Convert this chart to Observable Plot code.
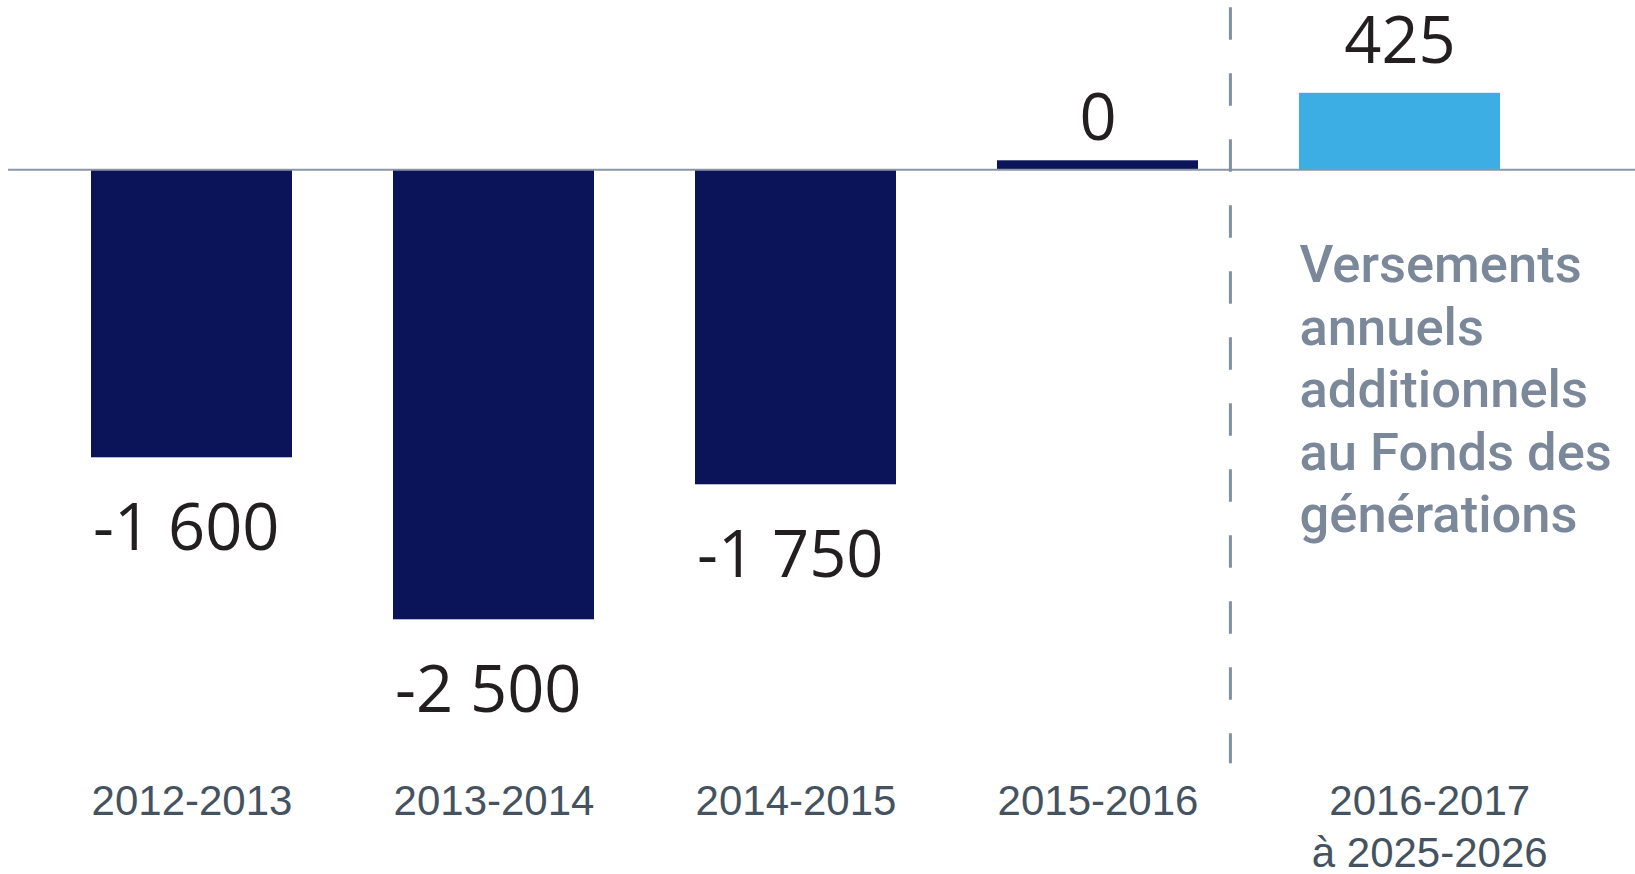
<!DOCTYPE html>
<html><head><meta charset="utf-8">
<script src="https://cdn.jsdelivr.net/npm/d3@7"></script>
<script src="https://cdn.jsdelivr.net/npm/@observablehq/plot@0.6"></script>
<style>html,body{margin:0;padding:0;background:#fff;}#chart svg{display:block;}</style>
</head><body><div id="chart"></div>
<script>
const periods = ["2012-2013", "2013-2014", "2014-2015", "2015-2016", "2016-2017 à 2025-2026"];
const tickLabels = ["2012-2013", "2013-2014", "2014-2015", "2015-2016", "2016-2017\nà 2025-2026"];
const values = [-1600, -2500, -1750, 0, 425];
const kinds = ["Résultat", "Résultat", "Résultat", "Résultat", "Versement"];
const note = "Versements\nannuels\nadditionnels\nau Fonds des\ngénérations";

const data = periods.map((p, i) => ({period: p, value: values[i], kind: kinds[i], tick: tickLabels[i]}));
const fr = d3.formatLocale({decimal: ",", thousands: " ", grouping: [3], currency: ["", " $"], minus: "-"});
const fmt = fr.format(",");

const chart = Plot.plot({
  width: 1635,
  height: 874,
  marginLeft: 8,
  marginRight: 0,
  marginTop: 7.3,
  marginBottom: 110.7,
  style: {fontFamily: "Liberation Sans", background: "#fff"},
  x: {domain: periods, paddingInner: 0.336, paddingOuter: 0.3555, align: 0.381, axis: null},
  y: {domain: [-3300, 900], axis: null},
  color: {domain: ["Résultat", "Versement"], range: ["#0b1359", "#3daee3"]},
  marks: [
    Plot.barY(data.filter(d => d.value !== 0), {x: "period", y: "value", fill: "kind"}),
    Plot.barY(data.filter(d => d.value === 0), {x: "period", y: "value", fill: "kind", insetTop: -9}),
    Plot.ruleY([0], {stroke: "#8a96a6", strokeWidth: 2}),
    Plot.ruleX([periods[4]], {x: d => d, dx: -169.6, stroke: "#8090a3", strokeWidth: 3, strokeDasharray: "32.5,33.5"}),
    Plot.text(data.filter(d => d.value < 0), {
      x: "period", y: "value", text: d => fmt(d.value), textAnchor: "start", dx: -99, dy: 71,
      fontSize: 65, fontFamily: "Open Sans", fill: "#231f20"
    }),
    Plot.text(data.filter(d => d.value >= 0), {
      x: "period", y: "value", text: d => fmt(d.value), dy: -51,
      fontSize: 65, fontFamily: "Open Sans", fill: "#231f20"
    }),
    Plot.text(data.slice(0, 4), {
      x: "period", text: "tick", frameAnchor: "bottom", lineAnchor: "top", dy: 21,
      fontSize: 42, fontFamily: "Liberation Sans", fill: "#44535f"
    }),
    Plot.text(data.slice(4), {
      x: "period", text: "tick", frameAnchor: "bottom", lineAnchor: "top", dy: 14.5, dx: 29.7, lineHeight: 1.24,
      fontSize: 42, fontFamily: "Liberation Sans", fill: "#44535f"
    }),
    Plot.text([note], {
      x: () => periods[4], text: d => d, frameAnchor: "top", lineAnchor: "top", textAnchor: "start",
      dx: -100.5, dy: 229.7, fontSize: 52.5, fontWeight: 500, fontFamily: "Roboto", lineHeight: 1.192, fill: "#7b889a"
    })
  ]
});
document.getElementById("chart").appendChild(chart);
</script>
</body></html>
